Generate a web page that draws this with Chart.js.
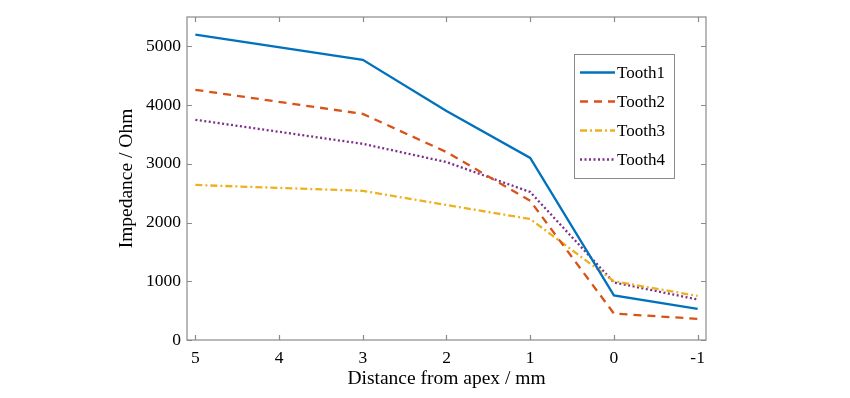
<!DOCTYPE html>
<html>
<head>
<meta charset="utf-8">
<script src="https://cdn.jsdelivr.net/npm/chart.js@4/dist/chart.umd.min.js"></script>
<style>
  html, body { margin: 0; padding: 0; background: #fff; }
  #wrap { width: 850px; height: 398px; }
</style>
</head>
<body>
<div id="wrap"><canvas id="chart" width="850" height="398"></canvas></div>
<script>
/* ── DATA ── */
const distances = [5, 3, 2, 1, 0, -1];
const tooth1 = [5200, 4770, 3900, 3100, 760, 530];
const tooth2 = [4260, 3850, 3200, 2370, 450, 360];
const tooth3 = [2640, 2540, 2300, 2060, 1000, 750];
const tooth4 = [3750, 3340, 3030, 2520, 980, 690];
const seriesNames = ["Tooth1", "Tooth2", "Tooth3", "Tooth4"];
const xTickValues = [5, 4, 3, 2, 1, 0, -1];
const yTickValues = [0, 1000, 2000, 3000, 4000, 5000];
const xTitle = "Distance from apex / mm";
const yTitle = "Impedance / Ohm";

const FONT = "'Liberation Serif', 'Times New Roman', serif";
const AXIS_COLOR = "#8a8a8a";

const styles = [
    { color: "#0072BD", dash: [] },
    { color: "#D95319", dash: [8, 6] },
    { color: "#EDB120", dash: [7, 3, 2, 3] },
    { color: "#7E2F8E", dash: [2, 2.5] }
];

const toPoints = arr => arr.map((v, i) => ({ x: distances[i], y: v }));

const datasets = [tooth1, tooth2, tooth3, tooth4].map((arr, i) => ({
    label: seriesNames[i],
    data: toPoints(arr),
    borderColor: styles[i].color,
    backgroundColor: styles[i].color,
    borderDash: styles[i].dash,
    borderWidth: 2.3,
    pointRadius: 0,
    tension: 0,
    fill: false
}));

/* ── MATLAB-style box, inward ticks, titles, legend ── */
const matlabFrame = {
    id: "matlabFrame",
    afterDraw(chart) {
        const { ctx, chartArea: a, scales } = chart;
        ctx.save();
        ctx.strokeStyle = AXIS_COLOR;
        ctx.lineWidth = 1.2;
        ctx.setLineDash([]);
        ctx.strokeRect(a.left, a.top, a.right - a.left, a.bottom - a.top);

        const tl = 5;
        ctx.beginPath();
        scales.x.ticks.forEach(t => {
            const px = Math.round(scales.x.getPixelForValue(t.value)) + 0.5;
            ctx.moveTo(px, a.bottom); ctx.lineTo(px, a.bottom - tl);
            ctx.moveTo(px, a.top);    ctx.lineTo(px, a.top + tl);
        });
        scales.y.ticks.forEach(t => {
            const py = Math.round(scales.y.getPixelForValue(t.value)) + 0.5;
            ctx.moveTo(a.left, py);  ctx.lineTo(a.left + tl, py);
            ctx.moveTo(a.right, py); ctx.lineTo(a.right - tl, py);
        });
        ctx.stroke();

        // axis titles
        ctx.fillStyle = "#000";
        ctx.font = "19.5px " + FONT;
        ctx.textAlign = "center";
        ctx.textBaseline = "middle";
        ctx.fillText(xTitle, (a.left + a.right) / 2, 379);
        ctx.save();
        ctx.translate(127, (a.top + a.bottom) / 2);
        ctx.rotate(-Math.PI / 2);
        ctx.fillText(yTitle, 0, 0);
        ctx.restore();

        // legend box
        const lx = 574, ly = 54, lw = 100, lh = 124;
        ctx.fillStyle = "#fff";
        ctx.fillRect(lx, ly, lw, lh);
        ctx.strokeStyle = AXIS_COLOR;
        ctx.lineWidth = 1;
        ctx.strokeRect(lx + 0.5, ly + 0.5, lw, lh);
        ctx.font = "17px " + FONT;
        ctx.textAlign = "left";
        chart.data.datasets.forEach((ds, i) => {
            const y = 72.5 + i * 29;
            ctx.strokeStyle = ds.borderColor;
            ctx.lineWidth = ds.borderWidth;
            ctx.setLineDash(ds.borderDash);
            ctx.beginPath();
            ctx.moveTo(580, y); ctx.lineTo(615, y);
            ctx.stroke();
            ctx.setLineDash([]);
            ctx.fillStyle = "#000";
            ctx.fillText(ds.label, 617, y + 1);
        });
        ctx.restore();
    }
};

new Chart(document.getElementById("chart"), {
    type: "line",
    data: { datasets },
    plugins: [matlabFrame],
    options: {
        responsive: false,
        animation: false,
        layout: { padding: { top: 17, right: 144, bottom: 0, left: 0 } },
        plugins: { legend: { display: false }, tooltip: { enabled: false } },
        scales: {
            x: {
                type: "linear",
                reverse: true,
                min: -1.1,
                max: 5.1,
                grid: { display: false, drawTicks: false },
                border: { display: false },
                afterBuildTicks: s => { s.ticks = xTickValues.map(v => ({ value: v })); },
                ticks: {
                    padding: 8,
                    maxRotation: 0,
                    autoSkip: false,
                    color: "#000",
                    font: { family: FONT, size: 17.5 },
                    callback: v => String(v)
                },
                afterFit: s => { s.height = 58; }
            },
            y: {
                min: 0,
                max: 5500,
                grid: { display: false, drawTicks: false },
                border: { display: false },
                afterBuildTicks: s => { s.ticks = yTickValues.map(v => ({ value: v })); },
                ticks: {
                    padding: 6,
                    autoSkip: false,
                    color: "#000",
                    font: { family: FONT, size: 17.5 },
                    callback: v => String(v)
                },
                afterFit: s => { s.width = 187; }
            }
        }
    }
});
</script>
</body>
</html>
